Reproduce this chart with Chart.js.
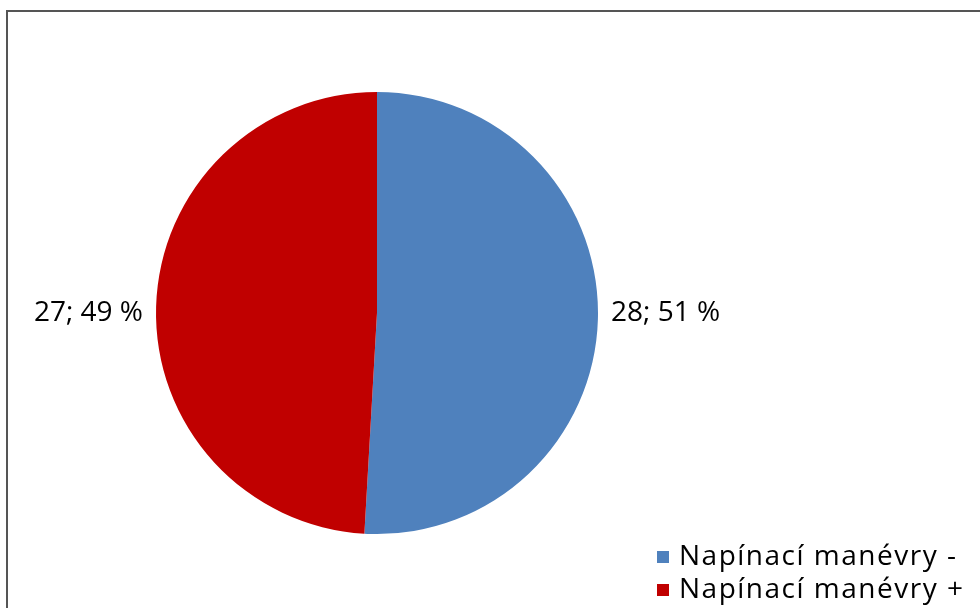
<!DOCTYPE html>
<html lang="cs">
<head>
<meta charset="UTF-8" />
<title>Napínací manévry</title>
<script src="https://cdn.jsdelivr.net/npm/chart.js@4.4.1/dist/chart.umd.min.js"></script>
<style>
  html, body { margin: 0; padding: 0; background: #fff; overflow: hidden; }
  #frame {
    position: absolute; left: 6px; top: 10px;
    width: 1000px; height: 620px;
    border-left: 2px solid #555; border-top: 2px solid #555;
  }
  #pie { position: absolute; left: 0; top: 0; }
</style>
</head>
<body>
<div id="frame"></div>
<canvas id="pie" width="980" height="608"></canvas>
<script>
  const categories = ["Napínací manévry -", "Napínací manévry +"];
  const counts = [28, 27];
  const percents = [51, 49];
  const colors = ["#4f81bd", "#c00000"];
  const labelFont = "28px 'Open Sans', sans-serif";

  // "count; percent %" left or right of each slice, level with the centre
  const sideLabels = {
    id: "sideLabels",
    afterDatasetsDraw(chart) {
      const ctx = chart.ctx;
      const meta = chart.getDatasetMeta(0);
      ctx.save();
      ctx.font = labelFont;
      ctx.fillStyle = "#000";
      ctx.textBaseline = "middle";
      meta.data.forEach((arc, i) => {
        const mid = (arc.startAngle + arc.endAngle) / 2;
        const right = Math.cos(mid) >= 0;
        const x = arc.x + (right ? 1 : -1) * (arc.outerRadius + 13);
        ctx.textAlign = right ? "left" : "right";
        ctx.fillText(counts[i] + "; " + percents[i] + " %", x, arc.y);
      });
      ctx.restore();
    }
  };

  // legend in the lower right corner
  const cornerLegend = {
    id: "cornerLegend",
    afterDraw(chart) {
      const ctx = chart.ctx;
      ctx.save();
      ctx.font = labelFont;
      ctx.letterSpacing = "1.5px";
      ctx.textBaseline = "middle";
      ctx.textAlign = "left";
      categories.forEach((c, i) => {
        const y = 557 + i * 33;
        ctx.fillStyle = colors[i];
        ctx.fillRect(657, y - 6, 12, 12);
        ctx.fillStyle = "#000";
        ctx.fillText(c, 679, y);
      });
      ctx.restore();
    }
  };

  new Chart(document.getElementById("pie"), {
    type: "pie",
    data: {
      labels: categories,
      datasets: [{
        data: counts,
        backgroundColor: colors,
        borderWidth: 0
      }]
    },
    options: {
      responsive: false,
      animation: false,
      layout: { padding: { left: 155, right: 381, top: 92, bottom: 74 } },
      plugins: {
        legend: { display: false },
        tooltip: { enabled: false }
      }
    },
    plugins: [sideLabels, cornerLegend]
  });
</script>
</body>
</html>
